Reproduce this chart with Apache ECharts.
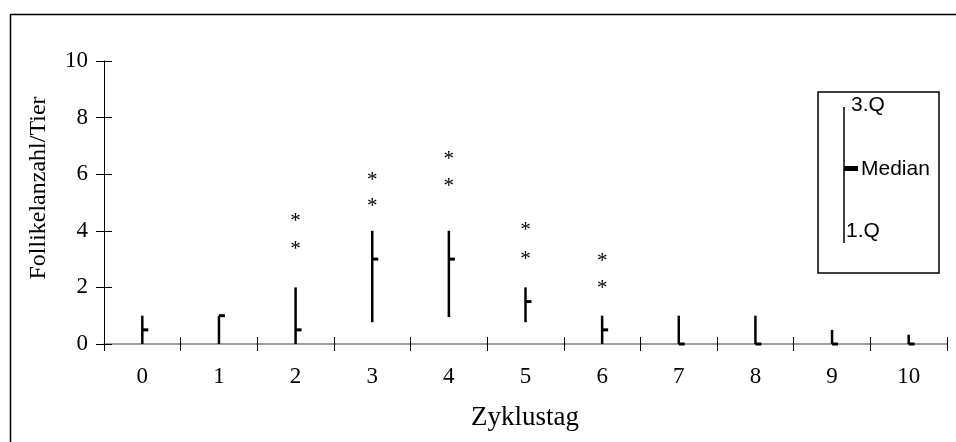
<!DOCTYPE html>
<html><head><meta charset="utf-8">
<script src="https://cdn.jsdelivr.net/npm/echarts@6/dist/echarts.min.js"></script>
<style>html,body{margin:0;padding:0;background:#fff}#c{width:956px;height:442px}</style>
</head><body><div id="c"></div>
<script>
const categories = ['0','1','2','3','4','5','6','7','8','9','10'];
const q1Values = [0, 0, 0, 0.77, 0.95, 0.77, 0, 0, 0, 0, 0];
const medianValues = [0.5, 1, 0.5, 3, 3, 1.5, 0.5, 0, 0, 0, 0];
const q3Values = [1, 1, 2, 4, 4, 2, 1, 1, 1, 0.5, 0.33];
const outlierLow = [null, null, 3.44, 4.95, 5.68, 3.1, 2.08, null, null, null, null];
const outlierHigh = [null, null, 4.44, 5.9, 6.64, 4.1, 3.03, null, null, null, null];
const yMin = 0, yMax = 10, yStep = 2;
const xTitle = 'Zyklustag';
const yTitle = 'Follikelanzahl/Tier';
const legendLabels = ['3.Q', 'Median', '1.Q'];

const serif = '"Liberation Serif","Times New Roman",serif';
const sans = '"Liberation Sans",Arial,sans-serif';

const boxData = categories.map((c, i) => [i, q1Values[i], medianValues[i], q3Values[i]]);
const starData = [];
categories.forEach((c, i) => {
  if (outlierLow[i] != null) starData.push([i, outlierLow[i]]);
  if (outlierHigh[i] != null) starData.push([i, outlierHigh[i]]);
});

const chart = echarts.init(document.getElementById('c'), null, {renderer: 'canvas'});
const baseX = {
  type: 'category', data: categories, boundaryGap: true, position: 'bottom', offset: 0,
  splitLine: {show: false}
};
const baseY = {
  type: 'value', min: yMin, max: yMax, interval: yStep, position: 'left', offset: 0,
  splitLine: {show: false}
};
chart.setOption({
  animation: false,
  backgroundColor: '#fff',
  grid: {left: 104, right: 9, top: 61, bottom: 98, containLabel: false},
  xAxis: [
    Object.assign({}, baseX, {
      axisLine: {show: true, lineStyle: {color: '#808080', width: 1.5}},
      axisTick: {show: true, inside: false, length: 7, lineStyle: {color: '#000', width: 1}},
      axisLabel: {show: true, margin: 21, color: '#000', fontFamily: serif, fontSize: 23}
    }),
    Object.assign({}, baseX, {
      axisLine: {show: false},
      axisTick: {show: true, inside: true, length: 7, lineStyle: {color: '#000', width: 1}},
      axisLabel: {show: false}
    })
  ],
  yAxis: [
    Object.assign({}, baseY, {
      axisLine: {show: true, lineStyle: {color: '#000', width: 1}},
      axisTick: {show: true, inside: false, length: 8, lineStyle: {color: '#000', width: 1}},
      axisLabel: {show: true, margin: 16, color: '#000', fontFamily: serif, fontSize: 23}
    }),
    Object.assign({}, baseY, {
      axisLine: {show: false},
      axisTick: {show: true, inside: true, length: 8, lineStyle: {color: '#000', width: 1}},
      axisLabel: {show: false}
    })
  ],
  series: [
    {
      type: 'custom', xAxisIndex: 0, yAxisIndex: 0, clip: false, z: 5,
      data: boxData,
      renderItem: function (params, api) {
        const i = api.value(0);
        const x = api.coord([i, 0])[0];
        const yLo = api.coord([i, api.value(1)])[1];
        const yMed = api.coord([i, api.value(2)])[1];
        const yHi = api.coord([i, api.value(3)])[1];
        return {type: 'group', children: [
          {type: 'line', shape: {x1: x, y1: yLo, x2: x, y2: yHi}, style: {stroke: '#000', lineWidth: 2.5}},
          {type: 'rect', shape: {x: x, y: yMed - 1.5, width: 6, height: 3}, style: {fill: '#000'}}
        ]};
      }
    },
    {
      type: 'custom', xAxisIndex: 0, yAxisIndex: 0, clip: false, z: 5,
      data: starData,
      renderItem: function (params, api) {
        const p = api.coord([api.value(0), api.value(1)]);
        return {type: 'text', x: p[0], y: p[1] + 3, style: {
          text: '*', fill: '#000', font: '21px ' + serif, align: 'center', verticalAlign: 'middle'
        }};
      }
    }
  ],
  graphic: [
    {type: 'rect', left: 8, top: 12, shape: {x: 0, y: 0, width: 960, height: 440}, style: {fill: 'none', stroke: '#000', lineWidth: 1.5}, silent: true},
    {type: 'text', x: 525, y: 418, style: {text: xTitle, font: '27px ' + serif, fill: '#000', align: 'center', verticalAlign: 'middle'}},
    {type: 'text', x: 39, y: 188, rotation: Math.PI / 2, style: {text: yTitle, font: '24px ' + serif, fill: '#000', align: 'center', verticalAlign: 'middle'}},
    {type: 'rect', shape: {x: 818, y: 92, width: 121, height: 181}, style: {fill: 'none', stroke: '#000', lineWidth: 1.5}},
    {type: 'line', shape: {x1: 844, y1: 107, x2: 844, y2: 243}, style: {stroke: '#000', lineWidth: 1.5}},
    {type: 'rect', shape: {x: 844, y: 166, width: 14, height: 5}, style: {fill: '#000'}},
    {type: 'text', x: 851, y: 105.5, style: {text: legendLabels[0], font: '21px ' + sans, fill: '#000', align: 'left', verticalAlign: 'middle'}},
    {type: 'text', x: 861, y: 169, style: {text: legendLabels[1], font: '21px ' + sans, fill: '#000', align: 'left', verticalAlign: 'middle'}},
    {type: 'text', x: 846, y: 231, style: {text: legendLabels[2], font: '21px ' + sans, fill: '#000', align: 'left', verticalAlign: 'middle'}}
  ]
});
</script></body></html>
